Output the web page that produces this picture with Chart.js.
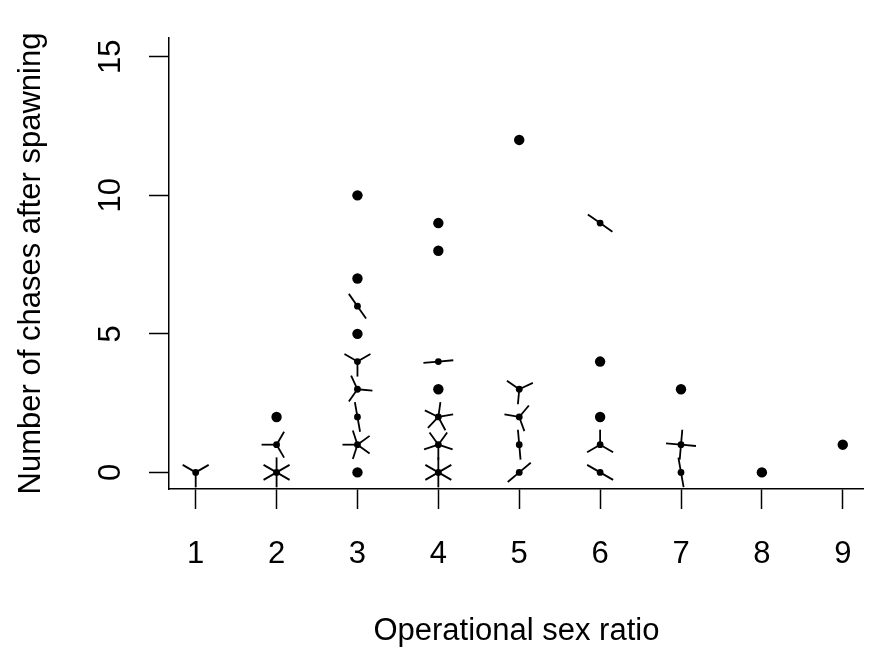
<!DOCTYPE html>
<html>
<head>
<meta charset="utf-8">
<script src="https://cdn.jsdelivr.net/npm/chart.js@4/dist/chart.umd.min.js"></script>
<style>
  html, body { margin: 0; padding: 0; background: #fff; overflow: hidden; }
</style>
</head>
<body>
<canvas id="chartCanvas" width="869" height="655"></canvas>
<script>
// sunflower plot: one entry per distinct (ratio, chases) pair
const ratio  = [1, 2, 2, 2, 3, 3, 3, 3, 3, 3, 3, 3, 3, 4, 4, 4, 4, 4, 4, 4, 5, 5, 5, 5, 5, 6, 6, 6, 6, 6, 7, 7, 7, 8, 9];
const chases = [0, 0, 1, 2, 0, 1, 2, 3, 4, 5, 6, 7, 10, 0, 1, 2, 3, 4, 8, 9, 0, 1, 2, 3, 12, 0, 1, 2, 4, 9, 0, 1, 3, 0, 1];
const counts = [3, 6, 3, 1, 1, 5, 2, 3, 3, 1, 2, 1, 1, 6, 5, 5, 1, 2, 1, 1, 2, 2, 3, 3, 1, 2, 3, 1, 1, 2, 2, 4, 1, 1, 1];
// petal rotation (degrees) as drawn in the original
const petalTurn = [30, 90, 60, 0, 0, 36, 100, -5, 30, 0, 125, 0, 0, 30, 54, 10, 0, 5, 0, 0, 40, 95, 50, 25, 0, 150, 90, 0, 0, 145, 100, -5, 0, 0, 0];

const xTicks = [1, 2, 3, 4, 5, 6, 7, 8, 9];
const yTicks = [0, 5, 10, 15];

const FONT = 'Liberation Sans, Arial, sans-serif';
const FSIZE = 31;
const PETAL = 15;

const petalPlugin = {
    id: 'petals',
    afterDatasetsDraw(chart) {
        const ctx = chart.ctx;
        const xs = chart.scales.x, ys = chart.scales.y;
        ctx.save();
        ctx.strokeStyle = '#000';
        ctx.lineWidth = 1.8;
        ratio.forEach((r, i) => {
            const n = counts[i];
            if (n < 2) return;
            const px = xs.getPixelForValue(r);
            const py = ys.getPixelForValue(chases[i]);
            for (let k = 0; k < n; k++) {
                const a = (petalTurn[i] + k * 360 / n) * Math.PI / 180;
                ctx.beginPath();
                ctx.moveTo(px, py);
                ctx.lineTo(px + PETAL * Math.cos(a), py - PETAL * Math.sin(a));
                ctx.stroke();
            }
        });
        ctx.restore();
    }
};

const ctx = document.getElementById('chartCanvas').getContext('2d');
const chart = new Chart(ctx, {
    type: 'scatter',
    data: {
        datasets: [{
            data: ratio.map((r, i) => ({ x: r, y: chases[i] })),
            backgroundColor: '#000',
            borderColor: '#000',
            borderWidth: 0,
            pointRadius: c => counts[c.dataIndex] > 1 ? 3.4 : 5.2,
            pointHoverRadius: c => counts[c.dataIndex] > 1 ? 3.4 : 5.2
        }]
    },
    options: {
        responsive: false,
        animation: false,
        events: [],
        layout: { padding: { left: 0, top: 38, right: 0, bottom: 0 } },
        plugins: { legend: { display: false }, tooltip: { enabled: false } },
        scales: {
            x: {
                type: 'linear',
                min: 0.67,
                max: 9.26,
                afterBuildTicks: s => { s.ticks = xTicks.map(v => ({ value: v })); },
                afterFit: s => { s.height = 166; s.paddingLeft = 0; s.paddingRight = 0; },
                grid: { drawOnChartArea: false, drawTicks: true, tickLength: 20, tickColor: '#000', tickWidth: 1.5 },
                border: { display: true, color: '#000', width: 1.5 },
                ticks: { color: '#000', font: { family: FONT, size: FSIZE }, padding: 27, maxRotation: 0 },
                title: { display: true, text: 'Operational sex ratio', color: '#000',
                         font: { family: FONT, size: FSIZE }, padding: { top: 0, bottom: 5 } }
            },
            y: {
                type: 'linear',
                min: -0.6,
                max: 15.68,
                afterBuildTicks: s => { s.ticks = yTicks.map(v => ({ value: v })); },
                afterFit: s => { s.width = 169; s.paddingTop = 0; s.paddingBottom = 0; },
                grid: { drawOnChartArea: false, drawTicks: true, tickLength: 20, tickColor: '#000', tickWidth: 1.5 },
                border: { display: true, color: '#000', width: 1.5 },
                ticks: { color: '#000', font: { family: FONT, size: FSIZE }, padding: 20,
                         minRotation: 90, maxRotation: 90, crossAlign: 'center' },
                title: { display: true, text: 'Number of chases after spawning', color: '#000',
                         font: { family: FONT, size: FSIZE }, padding: { top: 13, bottom: 0 } }
            }
        }
    },
    plugins: [petalPlugin]
});
</script>
</body>
</html>
